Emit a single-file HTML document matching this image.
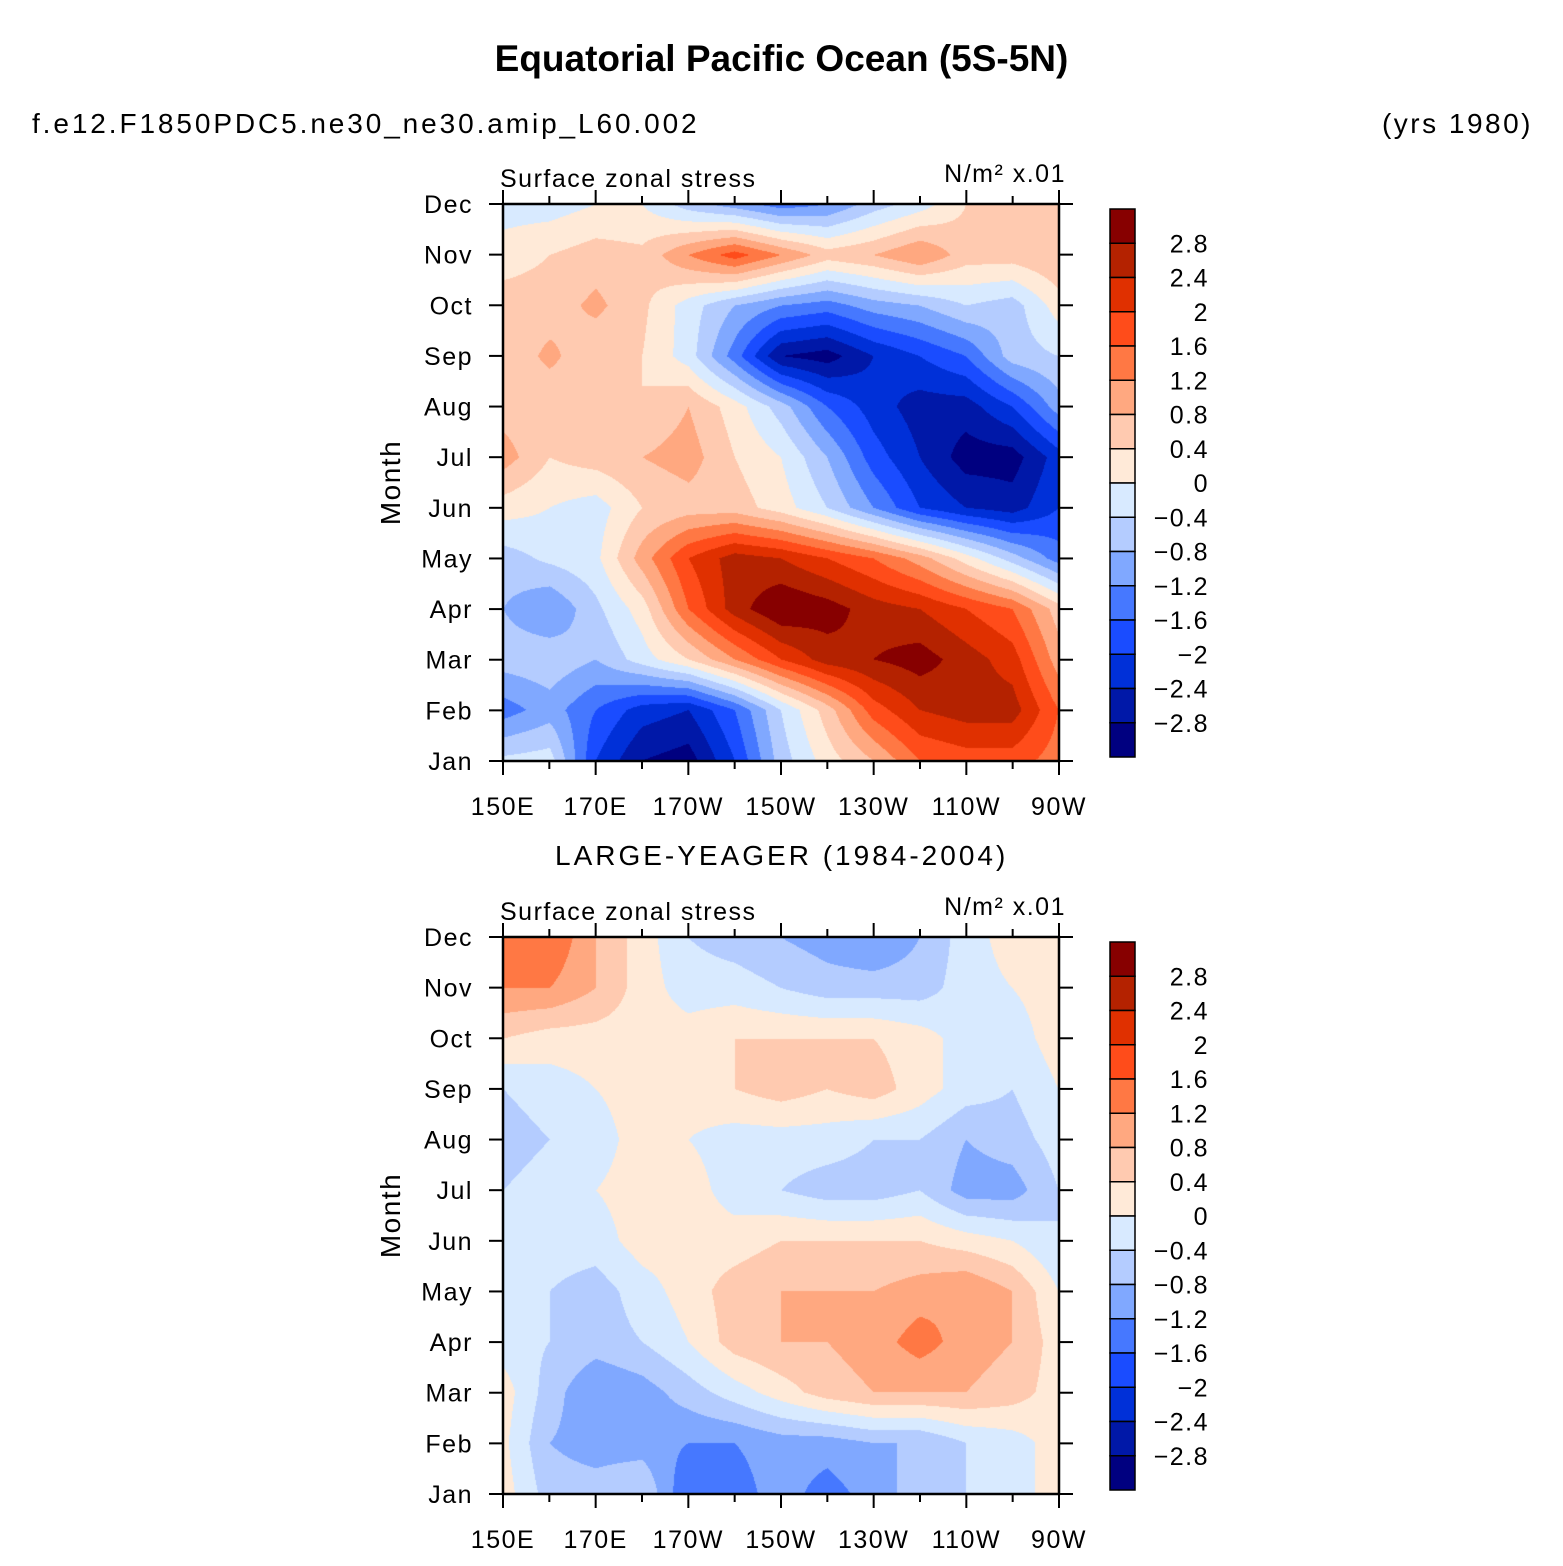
<!DOCTYPE html>
<html><head><meta charset="utf-8"><style>
body{margin:0;background:#fff;width:1563px;height:1566px;overflow:hidden;position:relative;font-family:"Liberation Sans",sans-serif;}
.t{position:absolute;white-space:nowrap;color:#000;}
canvas{position:absolute;}
</style></head><body>
<div class="t" style="left:0;width:1563px;text-align:center;top:38px;font-size:37px;font-weight:bold;">Equatorial Pacific Ocean (5S-5N)</div>
<div class="t" style="left:32px;top:108px;font-size:28px;letter-spacing:2.9px;">f.e12.F1850PDC5.ne30_ne30.amip_L60.002</div>
<div class="t" style="right:30px;top:108px;font-size:28px;letter-spacing:2.5px;">(yrs 1980)</div>
<div class="t" style="left:555px;top:840px;font-size:28px;letter-spacing:3px;">LARGE-YEAGER (1984-2004)</div>
<svg id="svg" width="1563" height="1566" style="position:absolute;left:0;top:0"></svg>
<script>
const months=["Jan","Feb","Mar","Apr","May","Jun","Jul","Aug","Sep","Oct","Nov","Dec"];
const lonTicks=["150E","170E","170W","150W","130W","110W","90W"];
const cbLabels=["2.8","2.4","2","1.6","1.2","0.8","0.4","0","\u22120.4","\u22120.8","\u22121.2","\u22121.6","\u22122","\u22122.4","\u22122.8"];
const levels=[-2.8,-2.4,-2,-1.6,-1.2,-0.8,-0.4,0,0.4,0.8,1.2,1.6,2,2.4,2.8];
const colors=["#000080","#0018a8","#0030d8","#1a4cff","#4678ff","#80a8ff","#b4ccff","#d8eaff","#ffead8","#ffcab0","#ffa880","#ff7844","#ff4c1a","#e03000","#b42200","#870000"];
const model=[
[-0.3,-0.2,-2,-2.8,-3,-2.0,-0.6,0.2,0.8,1.6,1.8,1.8,1.4],
[-1.4,-1.0,-1.6,-2.2,-2.4,-1.6,-0.4,0.6,1.8,2.4,2.6,2.6,1.6],
[-0.6,-0.5,-0.8,-0.2,0.4,1.2,2.0,2.6,2.8,3.0,2.6,2.2,1.0],
[-0.8,-1.2,-0.5,0.2,1.6,2.6,3.2,3.0,2.6,2.4,2.0,1.6,0.6],
[-0.6,-0.3,-0.1,1.0,2.0,2.6,2.4,2.0,1.6,1.0,0.2,-0.6,-1.4],
[0.2,0.0,-0.2,0.4,0.6,0.6,0.2,-0.4,-1.2,-2.0,-2.4,-2.6,-2.0],
[1.0,0.4,0.6,0.8,1.0,0.4,0.0,-0.8,-1.8,-2.4,-3.0,-3.0,-2.2],
[0.6,0.5,0.6,0.4,0.8,0.2,-0.6,-1.6,-2.2,-2.6,-2.6,-2.0,-1.0],
[0.5,0.9,0.5,0.4,-0.2,-1.4,-2.8,-3.0,-2.4,-2.0,-1.6,-0.6,-0.4],
[0.6,0.6,0.9,0.5,-0.2,-0.8,-1.2,-1.4,-1.0,-0.8,-0.4,-0.6,0.2],
[0.2,0.4,0.6,0.5,1.2,1.8,1.2,0.6,0.8,1.2,0.6,0.6,0.8],
[-0.2,-0.2,0.0,0.0,-0.6,-1.0,-1.4,-1.2,-0.6,-0.2,0.4,0.6,0.6]];
const obs=[
[0.2,-0.6,-0.6,-0.4,-1.6,-1.4,-1.0,-1.4,-1.0,-0.6,-0.4,-0.2,0.2],
[0.1,-0.8,-1.0,-1.0,-1.2,-1.2,-1.0,-1.0,-0.8,-0.8,-0.4,-0.2,0.2],
[0.2,-0.6,-1.2,-1.0,-0.6,-0.2,0.2,0.6,0.8,0.8,0.8,0.6,0.2],
[-0.2,-0.4,-0.6,-0.4,0.0,0.6,0.8,0.8,1.0,1.4,1.0,0.8,0.2],
[-0.4,-0.4,-0.6,-0.2,0.2,0.6,0.8,0.8,0.8,1.0,1.2,0.8,0.0],
[-0.2,-0.2,-0.2,0.2,0.2,0.2,0.4,0.4,0.4,0.4,0.2,0.0,-0.4],
[-0.4,-0.2,0.0,0.2,0.2,-0.2,-0.4,-0.6,-0.6,-0.4,-1.0,-1.0,-0.4],
[-0.6,-0.4,-0.2,0.2,0.0,-0.2,-0.2,-0.2,-0.4,-0.4,-0.8,-0.6,-0.2],
[-0.4,-0.2,0.0,0.2,0.2,0.4,0.6,0.4,0.6,0.2,-0.2,-0.4,0.0],
[0.4,0.2,0.2,0.2,0.2,0.4,0.4,0.4,0.4,0.2,-0.2,-0.2,0.2],
[1.2,1.2,0.8,0.2,-0.2,-0.2,-0.4,-0.6,-0.6,-0.6,-0.2,0.0,0.2],
[1.4,1.6,0.8,0.2,-0.4,-0.6,-0.8,-1.0,-1.2,-0.8,-0.2,0.2,0.2]];

const svg=document.getElementById('svg');
const NS="http://www.w3.org/2000/svg";
function mk(tag,attrs,parent){const e=document.createElementNS(NS,tag);for(const k in attrs)e.setAttribute(k,attrs[k]);(parent||svg).appendChild(e);return e;}
function txt(x,y,s,size,anchor,name){const e=mk('text',{x:x,y:y,'font-size':size,'text-anchor':anchor||'start','font-family':'Liberation Sans, sans-serif','letter-spacing':'1.5'});e.textContent=s;


return e;}
function colorIdx(v){let i=0;for(const l of levels)if(v>=l)i++;return i;}
function hex(h){return [parseInt(h.substr(1,2),16),parseInt(h.substr(3,2),16),parseInt(h.substr(5,2),16)];}
const rgb=colors.map(hex);

function panel(data,top,name){
  const X0=503,X1=1059,Y0=top,Y1=top+557,W=X1-X0,H=Y1-Y0;
  const xs=c=>X0+c*W/12, ys=r=>Y1-r*H/11;
  const cv=document.createElement('canvas');cv.width=W;cv.height=H;
  cv.style.left=X0+'px';cv.style.top=Y0+'px';
  
  
  document.body.insertBefore(cv,svg);
  const ctx=cv.getContext('2d');const img=ctx.createImageData(W,H);
  for(let py=0;py<H;py++){const fr=(H-1-py)/(H-1)*11;const r0=Math.min(10,Math.floor(fr));const ty=fr-r0;
    for(let px=0;px<W;px++){const fc=px/(W-1)*12;const c0=Math.min(11,Math.floor(fc));const tx=fc-c0;
      const v=data[r0][c0]*(1-tx)*(1-ty)+data[r0][c0+1]*tx*(1-ty)+data[r0+1][c0]*(1-tx)*ty+data[r0+1][c0+1]*tx*ty;
      const col=rgb[colorIdx(v+1e-6)];const k=(py*W+px)*4;img.data[k]=col[0];img.data[k+1]=col[1];img.data[k+2]=col[2];img.data[k+3]=255;}}
  ctx.putImageData(img,0,0);
  const g=mk('g',{});
  mk('rect',{x:X0,y:Y0,width:W,height:H,fill:'none',stroke:'#000','stroke-width':2.5},g);
  for(let c=0;c<=12;c++){const x=xs(c);const L=c%2==0?14:8;
    mk('line',{x1:x,y1:Y1,x2:x,y2:Y1+L,stroke:'#000','stroke-width':2},g);
    mk('line',{x1:x,y1:Y0,x2:x,y2:Y0-L,stroke:'#000','stroke-width':2},g);}
  lonTicks.forEach((s,i)=>txt(xs(i*2),Y1+54,s,25,'middle',name+'-x-tick-'+s));
  months.forEach((m,r)=>{const y=ys(r);
    mk('line',{x1:X0-14,y1:y,x2:X0,y2:y,stroke:'#000','stroke-width':2},g);
    mk('line',{x1:X1,y1:y,x2:X1+14,y2:y,stroke:'#000','stroke-width':2},g);
    txt(X0-30,y+9,m,25,'end',name+'-y-tick-'+m);});
  const yt=txt(0,0,'Month',28,'middle',name+'-y-axis-title');yt.setAttribute('transform','translate(400,'+(Y0+H/2)+') rotate(-90)');
  txt(500,Y0-17,'Surface zonal stress',25,'start',name+'-variable-label');
  txt(1066,Y0-22,'N/m\u00B2 x.01',25,'end',name+'-units-label');
  const cb=mk('g',{});
  const cT=top+5,cB=top+553,bh=(cB-cT)/16;
  for(let i=0;i<16;i++){mk('rect',{x:1110,y:cT+i*bh,width:25,height:bh,fill:colors[15-i],stroke:'#000','stroke-width':1.5},cb);}
  cbLabels.forEach((s,i)=>txt(1209,cT+(i+1)*bh+9,s,25,'end',name+'-colorbar-label-'+i));
}
panel(model,204,'model-panel');
panel(obs,937,'obs-panel');
</script>
</body></html>
